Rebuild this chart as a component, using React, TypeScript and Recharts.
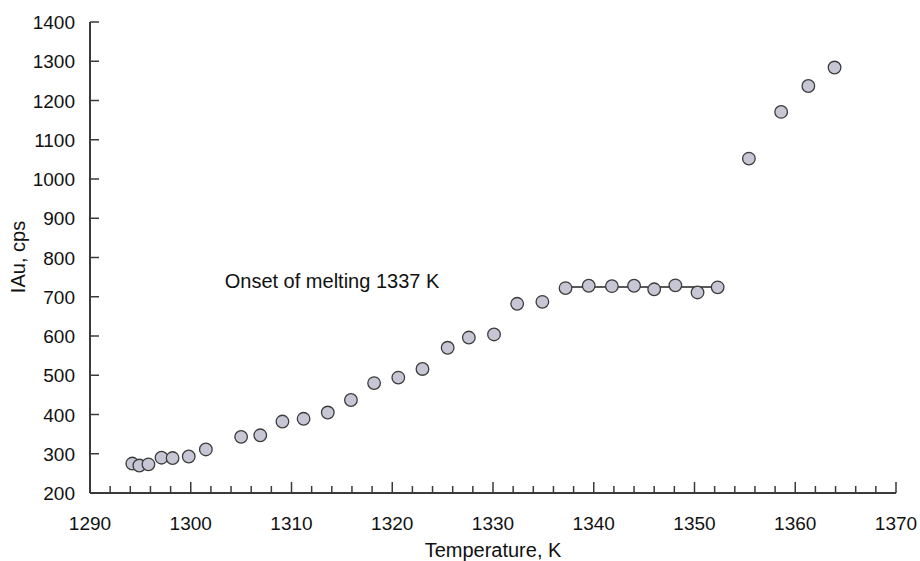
import React from 'react';
import { ScatterChart, Scatter, XAxis, YAxis, ReferenceDot } from 'recharts';

// Measured intensity vs temperature
const temperatureK = [
  1294.2, 1294.9, 1295.8, 1297.1, 1298.2, 1299.8, 1301.5, 1305.0, 1306.9, 1309.1,
  1311.2, 1313.6, 1315.9, 1318.2, 1320.6, 1323.0, 1325.5, 1327.6, 1330.1, 1332.4,
  1334.9, 1337.2, 1339.5, 1341.8, 1344.0, 1346.0, 1348.1, 1350.3, 1352.3, 1355.4,
  1358.6, 1361.3, 1363.9,
];
const intensityCps = [
  275, 270, 273, 290, 289, 293, 311, 343, 347, 382,
  389, 405, 437, 480, 494, 516, 570, 596, 604, 682,
  687, 722, 728, 727, 728, 719, 729, 711, 724, 1052,
  1171, 1237, 1284,
];

// Plateau segment drawn across the melting region
const plateauT = [1337.2, 1352.3];
const plateauI = [725, 725];

const xMajorTicks = [1290, 1300, 1310, 1320, 1330, 1340, 1350, 1360, 1370];
const yTicks = [200, 300, 400, 500, 600, 700, 800, 900, 1000, 1100, 1200, 1300, 1400];

const xTicks: number[] = [];
for (let t = 1290; t <= 1370; t += 2) xTicks.push(t);

const points = temperatureK.map((t, i) => ({ t, i: intensityCps[i] }));
const plateau = plateauT.map((t, k) => ({ t, i: plateauI[k] }));

const FONT = '"Liberation Sans", Arial, sans-serif';
const AXIS = '#3a3a3a';
const INK = '#111';

const XTick = (props: any) => {
  const { x, y, payload } = props;
  const major = xMajorTicks.includes(payload.value);
  return (
    <g>
      <line x1={x} y1={y} x2={x} y2={y - (major ? 11 : 7)} stroke={AXIS} strokeWidth={1.5} />
      {major && (
        <text x={x} y={y + 37} textAnchor="middle" fontSize={19} fill={INK} fontFamily={FONT}>
          {payload.value}
        </text>
      )}
    </g>
  );
};

const YTick = (props: any) => {
  const { x, y, payload } = props;
  return (
    <g>
      <line x1={x} y1={y} x2={x + 9} y2={y} stroke={AXIS} strokeWidth={1.5} />
      <text x={x - 15} y={y + 7} textAnchor="end" fontSize={19} fill={INK} fontFamily={FONT}>
        {payload.value}
      </text>
    </g>
  );
};

const Dot = (p: any) => (
  <circle cx={p.cx} cy={p.cy} r={6.3} fill="#c6c6d4" stroke="#3c3c3c" strokeWidth={1.3} />
);

export default function App() {
  return (
    <div style={{ position: 'absolute', left: 0, top: 0, background: '#fff' }}>
      <ScatterChart width={920} height={561} margin={{ top: 22, right: 24, bottom: 0, left: 0 }}>
        <XAxis
          type="number"
          dataKey="t"
          domain={[1290, 1370]}
          ticks={xTicks}
          interval={0}
          tickSize={0}
          tickMargin={0}
          tickLine={false}
          axisLine={{ stroke: AXIS, strokeWidth: 2 }}
          tick={<XTick />}
          height={68}
          label={{
            content: () => (
              <text x={493} y={557} textAnchor="middle" fontSize={20} fill={INK} fontFamily={FONT}>
                Temperature, K
              </text>
            ),
          }}
        />
        <YAxis
          type="number"
          dataKey="i"
          domain={[200, 1400]}
          ticks={yTicks}
          interval={0}
          width={90}
          tickSize={0}
          tickMargin={0}
          tickLine={false}
          axisLine={{ stroke: AXIS, strokeWidth: 2 }}
          tick={<YTick />}
          label={{
            content: () => (
              <text
                x={25}
                y={257}
                textAnchor="middle"
                fontSize={20}
                fill={INK}
                fontFamily={FONT}
                transform="rotate(-90, 25, 257)"
              >
                IAu, cps
              </text>
            ),
          }}
        />
        <Scatter
          data={plateau}
          line={{ stroke: '#222', strokeWidth: 1.5 }}
          shape={() => null}
          isAnimationActive={false}
        />
        <Scatter data={points} shape={<Dot />} isAnimationActive={false} />
        <ReferenceDot
          x={1314}
          y={750}
          r={0}
          fill="none"
          stroke="none"
          label={{
            content: () => (
              <text x={332} y={288} textAnchor="middle" fontSize={20} fill={INK} fontFamily={FONT}>
                Onset of melting 1337 K
              </text>
            ),
          }}
        />
      </ScatterChart>
    </div>
  );
}
